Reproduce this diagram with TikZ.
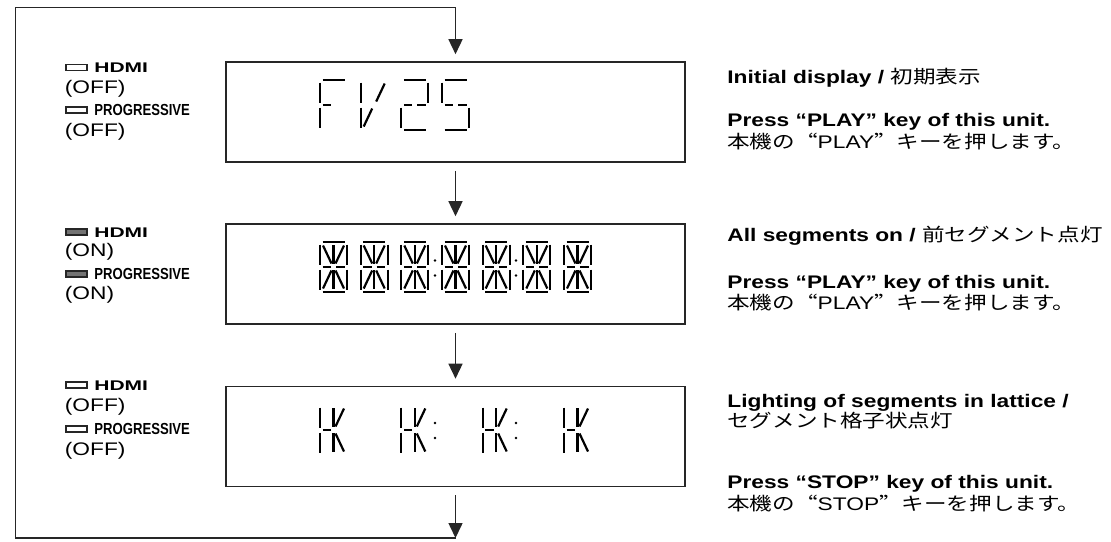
\documentclass[tikz,border=0pt]{standalone}
\usepackage{fontspec}
\setmainfont{Liberation Sans}[FakeStretch=1.25]
\newfontfamily\jpfont{Noto Sans CJK JP}[FakeStretch=1.24]
\newfontfamily\jpquote{Noto Sans CJK JP}[FakeStretch=1.24, RawFeature=+fwid]
\newfontfamily\hdmifont{Liberation Sans}[FakeStretch=1.5]
\newfontfamily\progfont{Liberation Sans}[FakeStretch=0.82]
\usetikzlibrary{arrows.meta,positioning}

% segments of one display character (27 x 50)
\newcommand{\segA}{\draw[seg] (2.5,0) -- (24.5,0);}
\newcommand{\segB}{\draw[seg] (27,2.5) -- (27,22.5);}
\newcommand{\segC}{\draw[seg] (27,27.5) -- (27,47.5);}
\newcommand{\segD}{\draw[seg] (2.5,50) -- (24.5,50);}
\newcommand{\segE}{\draw[seg] (0,27.5) -- (0,47.5);}
\newcommand{\segF}{\draw[seg] (0,2.5) -- (0,22.5);}
\newcommand{\segG}{\draw[seg] (2.5,25) -- (11,25);}
\newcommand{\segP}{\draw[seg] (16,25) -- (24.5,25);}
\newcommand{\segH}{\draw[seg] (3,3.5) -- (11.5,21.5);}
\newcommand{\segI}{\draw[seg] (13.5,3) -- (13.5,22);}
\newcommand{\segJ}{\draw[seg] (24,3.5) -- (15.5,21.5);}
\newcommand{\segK}{\draw[seg] (11.5,28.5) -- (3,46.5);}
\newcommand{\segL}{\draw[seg] (13.5,28) -- (13.5,47);}
\newcommand{\segM}{\draw[seg] (15.5,28.5) -- (24,46.5);}

\tikzset{
  pics/lcdchar/.style={code={\foreach \s in {#1} {\csname seg\s\endcsname}}},
  pics/lcdcolon/.style={code={\fill (0,-7.5) circle (0.7pt); \fill (0,7.5) circle (0.7pt);}}
}

\begin{document}
\begin{tikzpicture}[
    x=0.5pt, y=-0.5pt,
    panel/.style={draw=black!85, line width=0.8pt, minimum width=229.5pt, minimum height=50pt, inner sep=0pt},
    seg/.style={line width=1.1pt, line cap=butt},
    arrow/.style={-{Triangle[width=7pt,length=7.5pt]}, line width=0.75pt, draw=black!85},
    txt/.style={anchor=base west, inner sep=0pt, font=\fontsize{9.1}{11}\selectfont},
    lamp/.style={draw=black!85, line width=0.6pt, minimum width=10.5pt, minimum height=3pt, inner sep=0pt},
    lampoff/.style={lamp, fill=white},
    lampon/.style={lamp, fill=black!55},
    hdmi/.style={anchor=base west, inner sep=0pt, font=\hdmifont\bfseries\fontsize{7}{8}\selectfont},
    prog/.style={anchor=base west, inner sep=0pt, font=\progfont\bfseries\fontsize{8}{9}\selectfont}
  ]
    \useasboundingbox (0,0) rectangle (1111,541);

    \node[panel] (disp1) at (455.5,112) {};
    \node[panel] (disp2) at (455.5,274) {};
    \node[panel] (disp3) at (455.5,436.5) {};

    \coordinate (top) at (455.5,7.5);
    \coordinate (topleft) at (15.5,7.5);
    \coordinate (botleft) at (15.5,538);
    \coordinate (bot) at (455.5,538);

    \draw[arrow, shorten <=4pt, shorten >=3.5pt] (disp1) -- (disp2);
    \draw[arrow, shorten <=4pt, shorten >=3.5pt] (disp2) -- (disp3);
    \draw[arrow, shorten <=4pt] (disp3) -- (bot);
    \draw[arrow, shorten >=3.5pt] (bot) -- (botleft) -- (topleft) -- (top) -- (disp1);

    % display contents
    \pic at (320,80) {lcdchar={A,F,E,G}};
    \pic at (360.7,80) {lcdchar={F,E,J,K}};
    \pic at (401.3,80) {lcdchar={A,B,G,P,E,D}};
    \pic at (442,80) {lcdchar={A,F,G,P,C,D}};

    \foreach \x in {320,360.7,401.3,442,482.7,523.3,564}
      \pic at (\x,242) {lcdchar={A,B,C,D,E,F,G,P,H,I,J,K,L,M}};
    \pic at (435,268) {lcdcolon};
    \pic at (516,268) {lcdcolon};

    \foreach \x in {320,401.3,482.7,564}
      \pic at (\x,405) {lcdchar={F,E,G,I,L,J,M}};
    \pic at (435,430.5) {lcdcolon};
    \pic at (516,430.5) {lcdcolon};

    % indicators
    \node[lampoff] (lamp1a) at (76.5,67.5) {};
    \node[hdmi] (hdmi1) at (94,72.5) {HDMI};
    \node[txt] (state1a) at (64.5,93) {(OFF)};
    \node[lampoff] (lamp1b) at (76.5,110) {};
    \node[prog] (prog1) at (94,115.5) {PROGRESSIVE};
    \node[txt] (state1b) at (64.5,136) {(OFF)};

    \node[lampon] (lamp2a) at (76.5,232) {};
    \node[hdmi] (hdmi2) at (94,237) {HDMI};
    \node[txt] (state2a) at (64.5,256) {(ON)};
    \node[lampon] (lamp2b) at (76.5,274) {};
    \node[prog] (prog2) at (94,279.5) {PROGRESSIVE};
    \node[txt] (state2b) at (64.5,299) {(ON)};

    \node[lampoff] (lamp3a) at (76.5,385) {};
    \node[hdmi] (hdmi3) at (94,390) {HDMI};
    \node[txt] (state3a) at (64.5,411) {(OFF)};
    \node[lampoff] (lamp3b) at (76.5,429) {};
    \node[prog] (prog3) at (94,434.5) {PROGRESSIVE};
    \node[txt] (state3b) at (64.5,455) {(OFF)};

    % descriptions
    \node[txt] (title1) at (727,83) {\textbf{Initial display /} {\jpfont 初期表示}};
    \node[txt] (press1) at (727,126) {\bfseries Press “PLAY” key of this unit.};
    \node[txt] (jp1) at (727,148) {{\jpfont 本機の}{\jpquote “}PLAY{\jpquote ”}{\jpfont キーを押します。}};

    \node[txt] (title2) at (727,241) {\textbf{All segments on /} {\jpfont 前セグメント点灯}};
    \node[txt] (press2) at (727,288) {\bfseries Press “PLAY” key of this unit.};
    \node[txt] (jp2) at (727,309) {{\jpfont 本機の}{\jpquote “}PLAY{\jpquote ”}{\jpfont キーを押します。}};

    \node[txt] (title3) at (727,407) {\bfseries Lighting of segments in lattice /};
    \node[txt] (title3b) at (727,427) {\jpfont セグメント格子状点灯};
    \node[txt] (press3) at (727,488) {\bfseries Press “STOP” key of this unit.};
    \node[txt] (jp3) at (727,510) {{\jpfont 本機の}{\jpquote “}STOP{\jpquote ”}{\jpfont キーを押します。}};
  \end{tikzpicture}
\end{document}
